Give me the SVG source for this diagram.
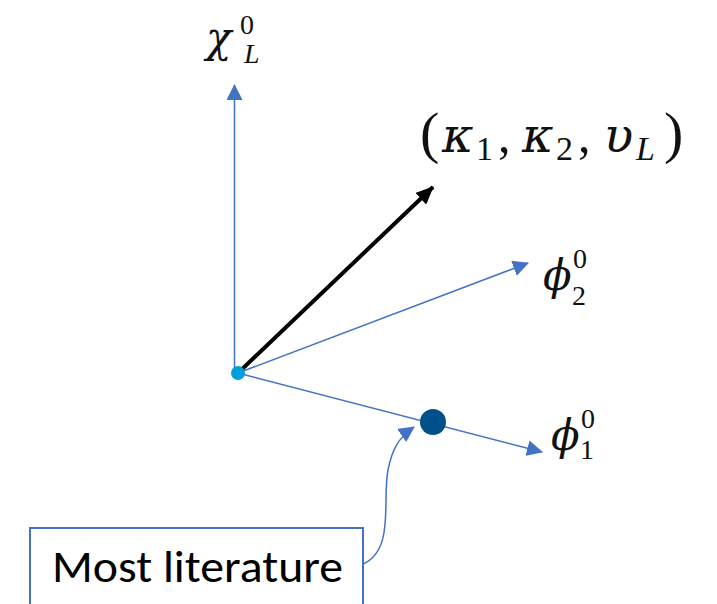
<svg xmlns="http://www.w3.org/2000/svg" width="717" height="604" viewBox="0 0 717 604">
<style>
.ax{stroke:#4472C4;stroke-width:1.5;fill:none}
.m{font-family:"Liberation Serif","DejaVu Serif",serif;fill:#111}
.g{font-family:"DejaVu Serif","Liberation Serif",serif;font-style:italic;fill:#111}
.it{font-style:italic}
</style>
<defs>
<marker id="abig" markerWidth="16" markerHeight="16" refX="15" refY="8" orient="auto" markerUnits="userSpaceOnUse" viewBox="0 0 16 16">
<path d="M0,0 L16,8 L0,16 Z" fill="#4472C4"/>
</marker>
<marker id="ak" markerWidth="18" markerHeight="16" refX="17" refY="8" orient="auto" markerUnits="userSpaceOnUse" viewBox="0 0 18 16">
<path d="M0,0 L18,8 L0,16 Z" fill="#000"/>
</marker>
</defs>
<rect width="717" height="604" fill="#fff"/>
<g id="connectors">
<line class="ax" x1="234.5" y1="373" x2="234.5" y2="85" marker-end="url(#abig)"/>
<line class="ax" x1="238" y1="373" x2="528" y2="263" marker-end="url(#abig)"/>
<line class="ax" x1="238" y1="373" x2="542" y2="452" marker-end="url(#abig)"/>
<line x1="238" y1="373" x2="433" y2="187" stroke="#000" stroke-width="4" marker-end="url(#ak)"/>
<path class="ax" d="M363,564 C395,550 382,500 388,470 C392,450 398,438 414,427" marker-end="url(#abig)"/>
</g>
<g id="origin"><circle cx="238" cy="373" r="7" fill="#009FD9"/></g>
<g id="point"><circle cx="433" cy="422" r="13" fill="#00508A"/></g>
<g id="chi">
<text class="g" x="206" y="52" font-size="42">χ</text>
<text class="m" x="240" y="34" font-size="28">0</text>
<text class="m it" x="244" y="63" font-size="28">L</text>
</g>
<g id="kappa">
<text class="m" x="420" y="152" font-size="58">(</text>
<text class="g" x="442" y="152" font-size="48">κ</text>
<text class="m" x="476" y="160" font-size="34">1</text>
<text class="m" x="498" y="152" font-size="50">,</text>
<text class="g" x="522" y="152" font-size="48">κ</text>
<text class="m" x="556" y="160" font-size="34">2</text>
<text class="m" x="578" y="152" font-size="50">,</text>
<text class="g" x="604" y="152" font-size="48">υ</text>
<text class="m it" x="636" y="160" font-size="34">L</text>
<text class="m" x="664" y="152" font-size="58">)</text>
</g>
<g id="phi2">
<text class="g" x="543" y="290" font-size="42">ϕ</text>
<text class="m" x="573" y="268" font-size="28">0</text>
<text class="m" x="572" y="305" font-size="28">2</text>
</g>
<g id="phi1">
<text class="g" x="551" y="450" font-size="42">ϕ</text>
<text class="m" x="581" y="428" font-size="28">0</text>
<text class="m" x="580" y="459" font-size="28">1</text>
</g>
<g id="box">
<rect x="30" y="528" width="333" height="90" fill="#fff" stroke="#4472C4" stroke-width="2"/>
<text x="52" y="582" font-family="Carlito,'Open Sans','Liberation Sans',sans-serif" font-size="46" textLength="291" lengthAdjust="spacingAndGlyphs" fill="#000">Most literature</text>
</g>
</svg>
